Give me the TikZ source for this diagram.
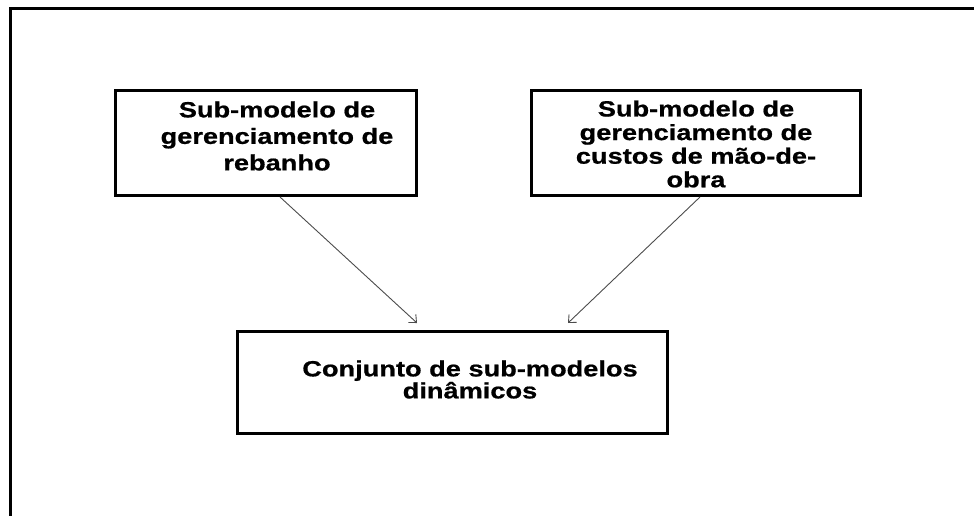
\documentclass[tikz,border=0pt]{standalone}
\usepackage{fontspec}
\newfontfamily\boxfont[FakeStretch=1.236, FakeBold=0.8]{Liberation Sans}
\usetikzlibrary{arrows.meta}
\tikzset{
  frame/.style={draw=black, line width=3pt},
  box/.style={draw=black, line width=3pt, inner sep=0pt},
  txt/.style={align=center, inner sep=0pt, text=black},
  conn/.style={draw=black!70, line width=0.9pt, -{Straight Barb[length=6pt,width=11pt]}}
}
\begin{document}
\begin{tikzpicture}[x=1pt,y=-1pt]
\useasboundingbox[fill=white] (0,0) rectangle (974,516);
\draw[frame] (10,516) -- (10,9) -- (974,9);
\node[box, minimum width=301pt, minimum height=105pt] (b1) at (266,143) {};
\node[box, minimum width=329pt, minimum height=105pt] (b2) at (696,143) {};
\node[box, minimum width=430pt, minimum height=102pt] (b3) at (452.5,382.5) {};
\node[txt, font={\boxfont\bfseries\fontsize{22}{26.5}\selectfont}] (t1) at (277,136) {Sub-modelo de\\gerenciamento de\\rebanho};
\node[txt, font={\boxfont\bfseries\fontsize{22}{23.6}\selectfont}] (t2) at (696,144) {Sub-modelo de\\gerenciamento de\\custos de mão-de-\\obra};
\node[txt, font={\boxfont\bfseries\fontsize{22}{22}\selectfont}] (t3) at (470,379.5) {Conjunto de sub-modelos\\dinâmicos};
\draw[conn] ([xshift=166pt]b1.south west) -- ([xshift=181pt,yshift=7pt]b3.north west);
\draw[conn] ([xshift=170pt]b2.south west) -- ([xshift=332pt,yshift=7pt]b3.north west);
\end{tikzpicture}
\end{document}
